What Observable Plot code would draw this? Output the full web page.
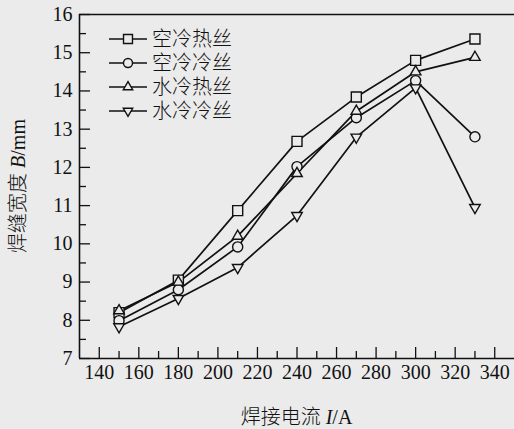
<!DOCTYPE html>
<html><head><meta charset="utf-8">
<script src="https://cdn.jsdelivr.net/npm/d3@7"></script>
<script src="https://cdn.jsdelivr.net/npm/@observablehq/plot@0.6"></script>
<style>
html,body{margin:0;padding:0;background:#ebebeb;}
#chart{width:514px;height:429px;}
</style></head><body><div id="chart"></div>
<script>
// ---- data ----
const current = [150, 180, 210, 240, 270, 300, 330];
const seriesNames = ["空冷热丝", "空冷冷丝", "水冷热丝", "水冷冷丝"];
const airHot    = [8.2, 9.05, 10.87, 12.68, 13.84, 14.8, 15.36];
const airCold   = [7.99, 8.8, 9.92, 12.02, 13.3, 14.27, 12.8];
const waterHot  = [8.25, 9.0, 10.2, 11.84, 13.47, 14.5, 14.88];
const waterCold = [7.83, 8.57, 9.38, 10.74, 12.79, 14.08, 10.95];
const xTicks = [140, 160, 180, 200, 220, 240, 260, 280, 300, 320, 340];
const xMinorTicks = [150, 170, 190, 210, 230, 250, 270, 290, 310, 330];
const yTicks = [7, 8, 9, 10, 11, 12, 13, 14, 15, 16];
const yMinorTicks = [7.5, 8.5, 9.5, 10.5, 11.5, 12.5, 13.5, 14.5, 15.5];
const xDomain = [130, 350];
const yDomain = [7, 16];

// ---- build ----
const bg = "#ebebeb", ink = "#111111";
const W = 514, H = 429, mL = 79, mR = 0, mT = 14, mB = 71;
const fw = W - mL - mR, fh = H - mT - mB;
const serif = "Liberation Serif, Times New Roman, Noto Sans CJK SC, serif";

const triangleDown = {
  draw(context, size) {
    const y = -Math.sqrt(size / (Math.sqrt(3) * 3));
    context.moveTo(0, -y * 2);
    context.lineTo(-Math.sqrt(3) * y, y);
    context.lineTo(Math.sqrt(3) * y, y);
    context.closePath();
  }
};
const symbols = [d3.symbolSquare, d3.symbolCircle, d3.symbolTriangle, triangleDown];
const symSize = [100, 80, 48, 48];
const valuesList = [airHot, airCold, waterHot, waterCold];

const rows = [];
seriesNames.forEach((s, i) => current.forEach((c, j) => rows.push({series: s, idx: i, I: c, B: valuesList[i][j]})));

const marks = [
  Plot.ruleX([xDomain[0]], {stroke: ink, strokeWidth: 1.6}),
  Plot.ruleY([yDomain[0], yDomain[1]], {stroke: ink, strokeWidth: 1.6}),
  Plot.tickX(xTicks, {x: d => d, insetTop: fh - 11, stroke: ink, strokeWidth: 1.3}),
  Plot.tickX(xMinorTicks, {x: d => d, insetTop: fh - 7, stroke: ink, strokeWidth: 1.3}),
  Plot.tickY(yTicks, {y: d => d, insetRight: fw - 11, stroke: ink, strokeWidth: 1.3}),
  Plot.tickY(yMinorTicks, {y: d => d, insetRight: fw - 7, stroke: ink, strokeWidth: 1.3}),
  Plot.axisX({ticks: xTicks, tickSize: 0, tickPadding: 6, fontSize: 20, fontFamily: serif, tickFormat: d => String(d)}),
  Plot.axisY({ticks: yTicks, tickSize: 0, tickPadding: 7, fontSize: 20, fontFamily: serif, tickFormat: d => String(d)}),
  Plot.line(rows, {x: "I", y: "B", z: "series", stroke: ink, strokeWidth: 1.7})
];
seriesNames.forEach((s, i) => {
  marks.push(Plot.dot(rows.filter(r => r.idx === i), {
    x: "I", y: "B", symbol: symbols[i], r: Math.sqrt(symSize[i] / Math.PI),
    fill: bg, stroke: ink, strokeWidth: 1.4
  }));
});

const plot = Plot.plot({
  width: W, height: H,
  marginLeft: mL, marginRight: mR, marginTop: mT, marginBottom: mB,
  x: {domain: xDomain, label: null},
  y: {domain: yDomain, label: null},
  style: {background: "transparent", fontFamily: serif, fontSize: "20px", color: ink, overflow: "visible"},
  marks
});
document.getElementById("chart").appendChild(plot);

// ---- legend and axis titles ----
const svg = d3.select(plot);
svg.selectAll("text").attr("font-family", serif).style("font-family", serif);
const lg = svg.append("g").attr("font-family", serif).attr("font-size", 20).attr("fill", ink).attr("text-anchor", "start");
seriesNames.forEach((s, i) => {
  const y = 39 + i * 24;
  const g = lg.append("g").attr("transform", `translate(0,${y})`);
  g.append("line").attr("x1", 109).attr("x2", 147).attr("stroke", ink).attr("stroke-width", 1.6);
  g.append("path").attr("d", d3.symbol(symbols[i], symSize[i] * 0.8)())
    .attr("transform", "translate(128,0)").attr("fill", bg).attr("stroke", ink).attr("stroke-width", 1.4);
  g.append("text").attr("x", 152).attr("dy", "0.35em").attr("text-anchor", "start").attr("font-weight", 300).text(s);
});

const xs = plot.scale("x").range, ys = plot.scale("y").range;
const xt = svg.append("text").attr("x", (xs[0] + xs[1]) / 2).attr("y", 417).attr("dy", "0.35em")
  .attr("text-anchor", "middle").attr("font-family", serif).attr("font-size", 20).attr("fill", ink).attr("font-weight", 300);
xt.append("tspan").text("焊接电流 ");
xt.append("tspan").attr("font-style", "italic").text("I");
xt.append("tspan").text("/A");

const yt = svg.append("text").attr("transform", `translate(18,${(ys[0] + ys[1]) / 2}) rotate(-90)`).attr("dy", "0.35em")
  .attr("text-anchor", "middle").attr("font-family", serif).attr("font-size", 20).attr("fill", ink).attr("font-weight", 300);
yt.append("tspan").text("焊缝宽度 ");
yt.append("tspan").attr("font-style", "italic").text("B");
yt.append("tspan").text("/mm");
</script></body></html>
